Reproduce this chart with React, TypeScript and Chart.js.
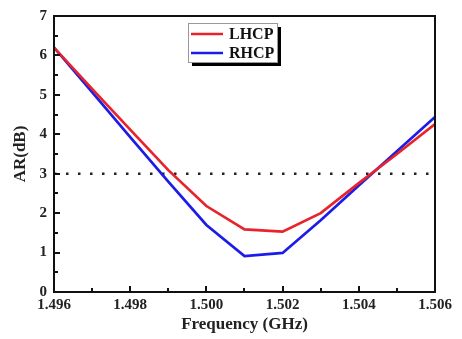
import React, { useEffect, useRef } from "react";
import { Chart, registerables } from "chart.js";

Chart.register(...registerables);

const frequencies = [1.496, 1.497, 1.498, 1.499, 1.5, 1.501, 1.502, 1.503, 1.504, 1.505, 1.506];
const lhcp = [6.2, 5.15, 4.12, 3.09, 2.18, 1.59, 1.53, 2.0, 2.76, 3.5, 4.26];
const rhcp = [6.2, 5.07, 3.93, 2.8, 1.7, 0.91, 0.99, 1.82, 2.7, 3.57, 4.44];
const thresholdX = [1.496, 1.506];
const thresholdY = [3, 3];
const seriesLabels = ["LHCP", "RHCP"];
const xTitle = "Frequency (GHz)";
const yTitle = "AR(dB)";

const FONT = "'Liberation Serif', 'Times New Roman', serif";

const framePlugin = {
  id: "frameTicks",
  afterDatasetsDraw(chart: any) {
    const { ctx, chartArea, scales } = chart;
    const xs = scales.x;
    const ys = scales.y;
    ctx.save();
    ctx.strokeStyle = "#111";
    ctx.lineWidth = 2;
    ctx.strokeRect(chartArea.left, chartArea.top, chartArea.right - chartArea.left, chartArea.bottom - chartArea.top);
    ctx.lineWidth = 2;
    for (let i = 0; i <= 10; i++) {
      const v = 1.496 + i * 0.001;
      const px = Math.round(xs.getPixelForValue(v));
      const len = i % 2 === 0 ? 6 : 4;
      ctx.beginPath();
      ctx.moveTo(px, chartArea.bottom);
      ctx.lineTo(px, chartArea.bottom - len);
      ctx.stroke();
    }
    for (let i = 0; i <= 14; i++) {
      const v = i * 0.5;
      const py = Math.round(ys.getPixelForValue(v));
      const len = i % 2 === 0 ? 6 : 4;
      ctx.beginPath();
      ctx.moveTo(chartArea.left, py);
      ctx.lineTo(chartArea.left + len, py);
      ctx.stroke();
    }
    // legend
    const bx = 188, by = 23, bw = 89, bh = 39;
    ctx.fillStyle = "#000";
    ctx.fillRect(bx + 4, by + 4, bw, bh);
    ctx.fillStyle = "#fff";
    ctx.fillRect(bx, by, bw, bh);
    ctx.strokeStyle = "#999";
    ctx.lineWidth = 1;
    ctx.strokeRect(bx + 0.5, by + 0.5, bw, bh);
    const ds = chart.data.datasets;
    ctx.font = `bold 16px ${FONT}`;
    ctx.textBaseline = "middle";
    for (let i = 0; i < 2; i++) {
      const y = by + 11 + i * 19;
      ctx.strokeStyle = ds[i].borderColor;
      ctx.lineWidth = 2.5;
      ctx.beginPath();
      ctx.moveTo(bx + 3, y);
      ctx.lineTo(bx + 35, y);
      ctx.stroke();
      ctx.fillStyle = "#111";
      ctx.fillText(ds[i].label, bx + 41, y + 1);
    }
    ctx.restore();
  },
};

export default function App() {
  const ref = useRef<HTMLCanvasElement>(null);
  useEffect(() => {
    const chart = new Chart(ref.current!, {
      type: "line",
      data: {
        datasets: [
          {
            label: seriesLabels[0],
            data: frequencies.map((f, i) => ({ x: f, y: lhcp[i] })),
            borderColor: "#e8232b",
            borderWidth: 2.7,
            pointRadius: 0,
          },
          {
            label: seriesLabels[1],
            data: frequencies.map((f, i) => ({ x: f, y: rhcp[i] })),
            borderColor: "#1c1ce8",
            borderWidth: 2.7,
            pointRadius: 0,
          },
          {
            label: "threshold",
            data: thresholdX.map((f, i) => ({ x: f, y: thresholdY[i] })),
            borderColor: "#222",
            borderWidth: 2.5,
            borderDash: [2.5, 9.5],
            pointRadius: 0,
          },
        ],
      },
      options: {
        animation: false,
        responsive: false,
        maintainAspectRatio: false,
        layout: { padding: { left: 0, top: 12, right: 27, bottom: 0 } },
        plugins: { legend: { display: false }, tooltip: { enabled: false } },
        scales: {
          x: {
            type: "linear",
            min: 1.496,
            max: 1.506,
            afterBuildTicks: (s: any) => {
              s.ticks = [1.496, 1.498, 1.5, 1.502, 1.504, 1.506].map((v) => ({ value: v }));
            },
            afterFit: (s: any) => {
              s.height = 47;
            },
            ticks: {
              color: "#222",
              font: { family: FONT, size: 15, weight: "bold" },
              padding: 4,
              maxRotation: 0,
              callback: (v: any) => Number(v).toFixed(3),
            },
            grid: { display: true, drawOnChartArea: false, drawTicks: false, color: "transparent" },
            border: { display: false },
            title: {
              display: true,
              text: xTitle,
              color: "#222",
              font: { family: FONT, size: 17, weight: "bold" },
              padding: { top: 2, bottom: 4 },
            },
          },
          y: {
            type: "linear",
            min: 0,
            max: 7,
            afterBuildTicks: (s: any) => {
              s.ticks = [0, 1, 2, 3, 4, 5, 6, 7].map((v) => ({ value: v }));
            },
            afterFit: (s: any) => {
              s.width = 54;
            },
            ticks: {
              color: "#222",
              font: { family: FONT, size: 15, weight: "bold" },
              padding: 7,
            },
            grid: { display: true, drawOnChartArea: false, drawTicks: false, color: "transparent" },
            border: { display: false },
            title: {
              display: true,
              text: yTitle,
              color: "#222",
              font: { family: FONT, size: 17, weight: "bold" },
              padding: { top: 10, bottom: 0 },
            },
          },
        },
      },
      plugins: [framePlugin],
    });
    return () => chart.destroy();
  }, []);
  return (
    <div style={{ position: "absolute", left: 0, top: 0, width: 462, height: 339, background: "#fff" }}>
      <canvas ref={ref} width={462} height={339} style={{ width: 462, height: 339 }} />
    </div>
  );
}
